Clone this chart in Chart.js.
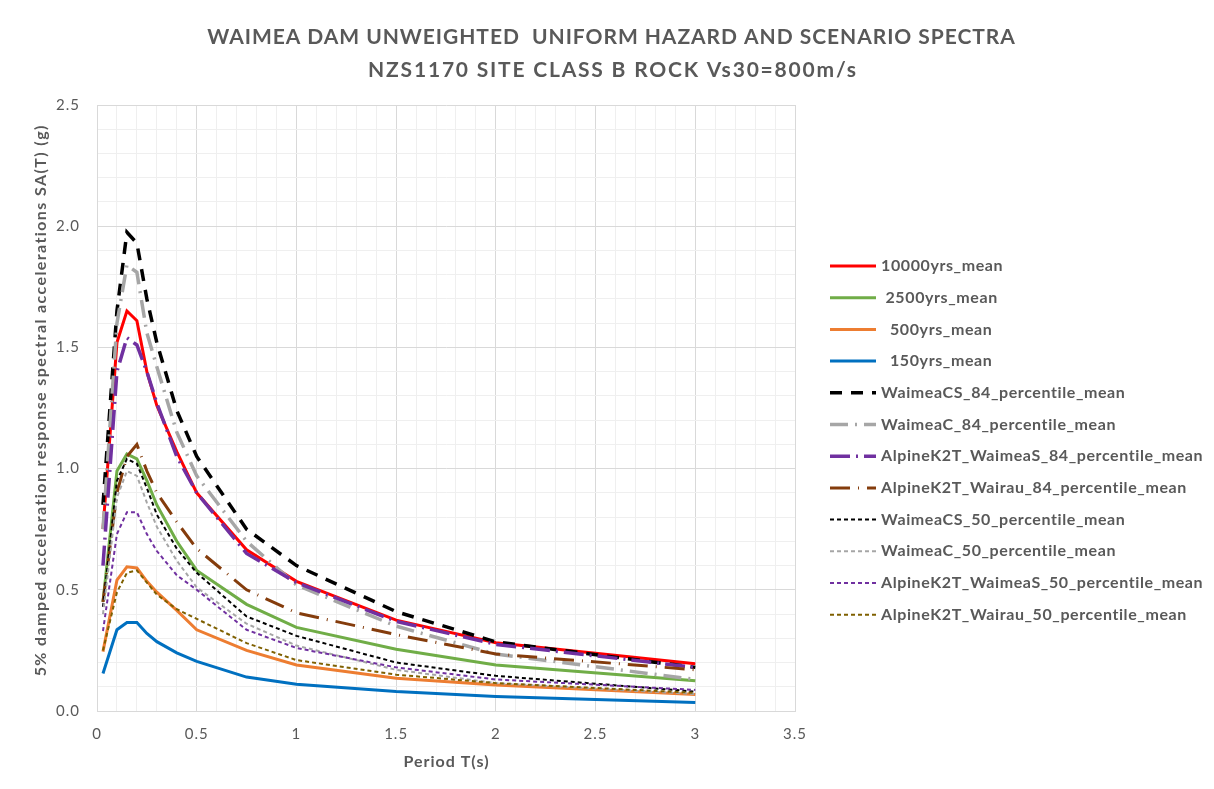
<!DOCTYPE html>
<html>
<head>
<meta charset="utf-8">
<script src="https://cdn.jsdelivr.net/npm/chart.js@4"></script>
<style>
  body { margin: 0; background: #fff; }
  #wrap { width: 1214px; height: 789px; }
</style>
</head>
<body>
<div id="wrap"><canvas id="spectraChart"></canvas></div>
<script>
const periods = [0.03, 0.1, 0.15, 0.2, 0.25, 0.3, 0.4, 0.5, 0.75, 1.0, 1.5, 2.0, 3.0];

const uhs10000 = [0.75, 1.52, 1.65, 1.61, 1.40, 1.26, 1.07, 0.90, 0.665, 0.535, 0.375, 0.282, 0.195];
const uhs2500 = [0.45, 0.99, 1.06, 1.04, 0.95, 0.85, 0.70, 0.58, 0.44, 0.345, 0.255, 0.19, 0.125];
const uhs500 = [0.245, 0.54, 0.595, 0.59, 0.535, 0.49, 0.415, 0.335, 0.25, 0.19, 0.135, 0.107, 0.068];
const uhs150 = [0.155, 0.335, 0.365, 0.365, 0.32, 0.286, 0.24, 0.205, 0.14, 0.11, 0.08, 0.06, 0.035];

const waimeaCS84 = [0.85, 1.65, 1.975, 1.93, 1.70, 1.52, 1.24, 1.05, 0.75, 0.60, 0.41, 0.285, 0.18];
const waimeaC84 = [0.75, 1.60, 1.84, 1.81, 1.56, 1.42, 1.15, 0.97, 0.70, 0.52, 0.35, 0.235, 0.13];
const alpineWaimeaS84 = [0.60, 1.40, 1.54, 1.51, 1.40, 1.27, 1.05, 0.90, 0.65, 0.53, 0.37, 0.275, 0.18];
const alpineWairau84 = [0.45, 0.90, 1.05, 1.10, 0.99, 0.90, 0.78, 0.67, 0.50, 0.405, 0.315, 0.235, 0.17];

const waimeaCS50 = [0.43, 0.95, 1.04, 1.02, 0.92, 0.81, 0.67, 0.57, 0.39, 0.31, 0.20, 0.145, 0.08];
const waimeaC50 = [0.40, 0.88, 0.99, 0.97, 0.86, 0.76, 0.62, 0.51, 0.36, 0.27, 0.17, 0.115, 0.07];
const alpineWaimeaS50 = [0.33, 0.73, 0.82, 0.82, 0.73, 0.66, 0.56, 0.50, 0.335, 0.26, 0.18, 0.13, 0.087];
const alpineWairau50 = [0.25, 0.49, 0.57, 0.58, 0.53, 0.48, 0.42, 0.38, 0.28, 0.21, 0.15, 0.115, 0.075];

const seriesNames = [
    "10000yrs_mean", " 2500yrs_mean", "  500yrs_mean", "  150yrs_mean",
    "WaimeaCS_84_percentile_mean", "WaimeaC_84_percentile_mean",
    "AlpineK2T_WaimeaS_84_percentile_mean", "AlpineK2T_Wairau_84_percentile_mean",
    "WaimeaCS_50_percentile_mean", "WaimeaC_50_percentile_mean",
    "AlpineK2T_WaimeaS_50_percentile_mean", "AlpineK2T_Wairau_50_percentile_mean"
];

const seriesValues = [
    uhs10000, uhs2500, uhs500, uhs150,
    waimeaCS84, waimeaC84, alpineWaimeaS84, alpineWairau84,
    waimeaCS50, waimeaC50, alpineWaimeaS50, alpineWairau50
];

const titleLines = [
    "WAIMEA DAM UNWEIGHTED  UNIFORM HAZARD AND SCENARIO SPECTRA",
    "NZS1170 SITE CLASS B ROCK Vs30=800m/s"
];
const xTitle = "Period T(s)";
const yTitle = "5% damped acceleration response spectral accelerations SA(T) (g)";

const styles = [
    { color: "#ff0000", width: 3, dash: [] },
    { color: "#70ad47", width: 3, dash: [] },
    { color: "#ed7d31", width: 3, dash: [] },
    { color: "#0070c0", width: 3, dash: [] },
    { color: "#000000", width: 3.5, dash: [12, 9] },
    { color: "#a6a6a6", width: 3.5, dash: [18, 7, 2, 7] },
    { color: "#7030a0", width: 3.5, dash: [20, 6, 2, 6] },
    { color: "#843c0c", width: 3, dash: [20, 8, 1, 8] },
    { color: "#000000", width: 2, dash: [4, 3] },
    { color: "#a6a6a6", width: 2, dash: [4, 3] },
    { color: "#7030a0", width: 2, dash: [4, 3] },
    { color: "#7f6000", width: 2, dash: [4, 3] }
];

const textGrey = "#595959";
const fontFamily = "Lato, 'Liberation Sans', sans-serif";

function isMajor(v) {
    return Math.abs(v * 2 - Math.round(v * 2)) < 1e-6;
}

function drawText(ctx, text, x, y, font, spacing, angle) {
    ctx.save();
    ctx.translate(x, y);
    ctx.rotate(angle || 0);
    ctx.font = font;
    ctx.letterSpacing = spacing + "px";
    ctx.fillStyle = textGrey;
    ctx.textAlign = "center";
    ctx.textBaseline = "middle";
    ctx.fillText(text, spacing / 2, 0);
    ctx.restore();
}

// titles and legend drawn by hand so they sit where the excel ones do
const excelText = {
    id: "excelText",
    beforeDraw(chart) {
        chart.ctx.letterSpacing = "1px";
    },
    afterDraw(chart) {
        const ctx = chart.ctx;
        const area = chart.chartArea;

        drawText(ctx, titleLines[0], 611, 37, "bold 21px " + fontFamily, 0.95);
        drawText(ctx, titleLines[1], 612, 70, "bold 21px " + fontFamily, 1.8);
        drawText(ctx, xTitle, (area.left + area.right) / 2, 762, "bold 16px " + fontFamily, 1);
        drawText(ctx, yTitle, 41, 401, "bold 16px " + fontFamily, 1.4, -Math.PI / 2);

        ctx.save();
        chart.data.datasets.forEach((ds, i) => {
            const y = 266 + i * 31.7;
            ctx.beginPath();
            ctx.strokeStyle = ds.borderColor;
            ctx.lineWidth = ds.borderWidth;
            ctx.setLineDash(ds.borderDash);
            ctx.moveTo(830, y);
            ctx.lineTo(876, y);
            ctx.stroke();
            ctx.setLineDash([]);
            ctx.fillStyle = textGrey;
            ctx.font = "bold 16px " + fontFamily;
            ctx.letterSpacing = "0.6px";
            ctx.textAlign = "left";
            ctx.textBaseline = "middle";
            ctx.fillText(ds.label, 881, y);
        });
        ctx.restore();
    }
};

const datasets = seriesNames.map((name, i) => ({
    label: name,
    data: periods.map((p, j) => ({ x: p, y: seriesValues[i][j] })),
    borderColor: styles[i].color,
    backgroundColor: styles[i].color,
    borderWidth: styles[i].width,
    borderDash: styles[i].dash,
    pointRadius: 0,
    tension: 0,
    fill: false,
    order: seriesNames.length - i
}));

new Chart(document.getElementById("spectraChart"), {
    type: "line",
    data: { datasets },
    plugins: [excelText],
    options: {
        responsive: true,
        maintainAspectRatio: false,
        animation: false,
        layout: {
            padding: { left: 0, right: 419, top: 105, bottom: 0 }
        },
        plugins: {
            legend: { display: false },
            tooltip: { enabled: false },
            title: { display: false }
        },
        scales: {
            x: {
                type: "linear",
                min: 0,
                max: 3.5,
                afterFit: scale => { scale.height = 78; },
                ticks: {
                    stepSize: 0.1,
                    autoSkip: false,
                    maxRotation: 0,
                    padding: 14,
                    color: textGrey,
                    font: { family: fontFamily, size: 15 },
                    callback: v => isMajor(v) ? String(Math.round(v * 10) / 10) : ""
                },
                grid: {
                    drawTicks: false,
                    color: c => isMajor(c.tick.value) ? "#d9d9d9" : "#efefef"
                },
                border: { color: "#d9d9d9" }
            },
            y: {
                min: 0,
                max: 2.5,
                afterFit: scale => { scale.width = 97; },
                ticks: {
                    stepSize: 0.1,
                    autoSkip: false,
                    padding: 17,
                    color: textGrey,
                    font: { family: fontFamily, size: 15 },
                    callback: v => isMajor(v) ? v.toFixed(1) : ""
                },
                grid: {
                    drawTicks: false,
                    color: c => isMajor(c.tick.value) ? "#d9d9d9" : "#efefef"
                },
                border: { color: "#d9d9d9" }
            }
        }
    }
});
</script>
</body>
</html>
